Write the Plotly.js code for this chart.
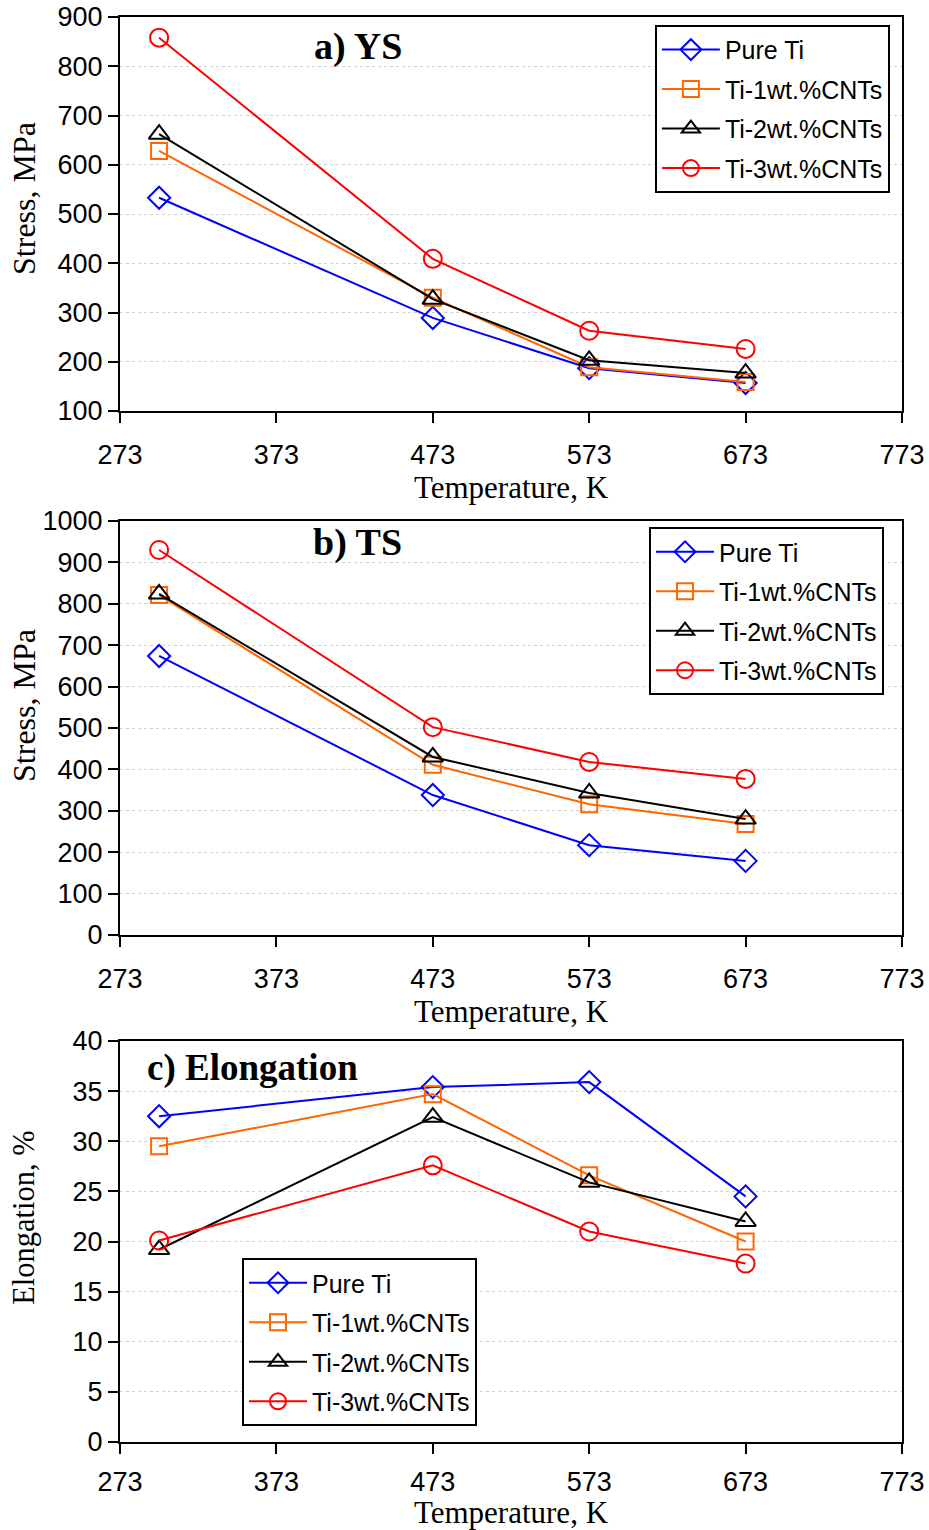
<!DOCTYPE html>
<html>
<head>
<meta charset="utf-8">
<script src="https://cdn.plot.ly/plotly-3.0.1.min.js"></script>
<style>html,body{margin:0;padding:0;background:#fff;}#chart{width:929px;height:1530px;}</style>
</head>
<body>
<div id="chart"></div>
<script>
// Temperatures (K)
const temps = [298, 473, 573, 673];
const seriesNames = ['Pure Ti', 'Ti-1wt.%CNTs', 'Ti-2wt.%CNTs', 'Ti-3wt.%CNTs'];
// a) Yield strength, MPa
const ysPureTi = [533, 289, 187, 157];
const ysTi1 = [628, 330, 189, 159];
const ysTi2 = [662, 327, 203, 177];
const ysTi3 = [858, 409, 263, 226];
// b) Tensile strength, MPa
const tsPureTi = [674, 338, 217, 179];
const tsTi1 = [821, 411, 316, 268];
const tsTi2 = [824, 430, 343, 280];
const tsTi3 = [930, 502, 418, 377];
// c) Elongation, %
const elPureTi = [32.5, 35.4, 35.9, 24.5];
const elTi1 = [29.5, 34.7, 26.6, 20.0];
const elTi2 = [19.2, 32.4, 25.9, 22.0];
const elTi3 = [20.1, 27.6, 21.0, 17.8];

const panelLabels = ['a) YS', 'b) TS', 'c) Elongation'];
const yTitles = ['Stress, MPa', 'Stress, MPa', 'Elongation, %'];
const xTitle = 'Temperature, K';

const colors = ['#0000ff', '#ff6600', '#000000', '#ff0000'];
const symbols = ['diamond-open', 'square-open', 'triangle-up-open', 'circle-open'];
const sizes = [17, 16, 18, 18];

const panels = [
  {data: [ysPureTi, ysTi1, ysTi2, ysTi3], xa: 'x', ya: 'y', leg: 'legend'},
  {data: [tsPureTi, tsTi1, tsTi2, tsTi3], xa: 'x2', ya: 'y2', leg: 'legend2'},
  {data: [elPureTi, elTi1, elTi2, elTi3], xa: 'x3', ya: 'y3', leg: 'legend3'}
];

const traces = [];
panels.forEach((p, pi) => {
  p.data.forEach((vals, i) => {
    traces.push({
      x: temps, y: vals, type: 'scatter', mode: 'lines+markers',
      name: seriesNames[i], xaxis: p.xa, yaxis: p.ya, legend: p.leg,
      legendgroup: 'p' + pi + 's' + i,
      line: {color: colors[i], width: 2},
      marker: {symbol: symbols[i], size: sizes[i], color: colors[i], line: {color: colors[i], width: 2}},
      cliponaxis: false
    });
  });
});

const sans = 'Liberation Sans, Arial, sans-serif';
const serif = 'Liberation Serif, Times New Roman, serif';

function xax(anchor, lblStandoff) {
  return {
    anchor: anchor, domain: [0, 1], range: [273, 773], tick0: 273, dtick: 100,
    showline: true, mirror: true, linewidth: 2, linecolor: '#000',
    ticks: 'outside', ticklen: 10, tickwidth: 2, tickcolor: '#000',
    tickfont: {family: sans, size: 27, color: '#000'},
    showgrid: false, zeroline: false, ticklabelstandoff: lblStandoff,
    title: {text: xTitle, font: {family: serif, size: 31, color: '#000'}, standoff: 2}
  };
}
function yax(domain, range, dtick, anchor) {
  return {
    domain: domain, range: range, dtick: dtick, tick0: 0, anchor: anchor,
    showline: true, mirror: true, linewidth: 2, linecolor: '#000',
    ticks: 'outside', ticklen: 10, tickwidth: 2, tickcolor: '#000',
    tickfont: {family: sans, size: 27, color: '#000'},
    showgrid: true, gridcolor: '#d0d0d0', griddash: 'dot', gridwidth: 1,
    zeroline: false
  };
}

const legBase = {
  bgcolor: '#fff', bordercolor: '#000', borderwidth: 2,
  font: {family: sans, size: 25, color: '#000'},
  xanchor: 'left', yanchor: 'top', tracegroupgap: 4, itemwidth: 58
};

const annBase = {xref: 'paper', yref: 'paper', showarrow: false, xanchor: 'center', yanchor: 'middle'};
const labelPos = [[0.3043, 0.9796, 38], [0.3043, 0.6309, 38], [0.1688, 0.2625, 37]];
const yTitlePos = [0.873, 0.5172, 0.158];
const yTitleSize = [32, 32, 30.5];

const annotations = [];
panelLabels.forEach((t, i) => {
  annotations.push(Object.assign({}, annBase, {text: '<b>' + t + '</b>', x: labelPos[i][0], y: labelPos[i][1], font: {family: serif, size: labelPos[i][2], color: '#000'}}));
});
yTitles.forEach((t, i) => {
  annotations.push(Object.assign({}, annBase, {text: t, x: -0.1228, y: yTitlePos[i], textangle: -90, font: {family: serif, size: yTitleSize[i], color: '#000'}}));
});

const layout = {
  width: 929, height: 1530,
  margin: {l: 120, r: 27, t: 17, b: 88},
  paper_bgcolor: '#fff', plot_bgcolor: '#fff',
  showlegend: true,
  xaxis: xax('y', 9),
  xaxis2: xax('y2', 9),
  xaxis3: xax('y3', 5),
  yaxis: yax([0.7235, 1], [100, 900], 100, 'x'),
  yaxis2: yax([0.3558, 0.6463], [0, 1000], 100, 'x2'),
  yaxis3: yax([0, 0.2814], [0, 40], 5, 'x3'),
  legend: Object.assign({}, legBase, {x: 0.684, y: 0.9945}),
  legend2: Object.assign({}, legBase, {x: 0.6765, y: 0.6421}),
  legend3: Object.assign({}, legBase, {x: 0.156, y: 0.1291}),
  annotations: annotations
};

Plotly.newPlot('chart', traces, layout, {displayModeBar: false, staticPlot: true});
</script>
</body>
</html>
